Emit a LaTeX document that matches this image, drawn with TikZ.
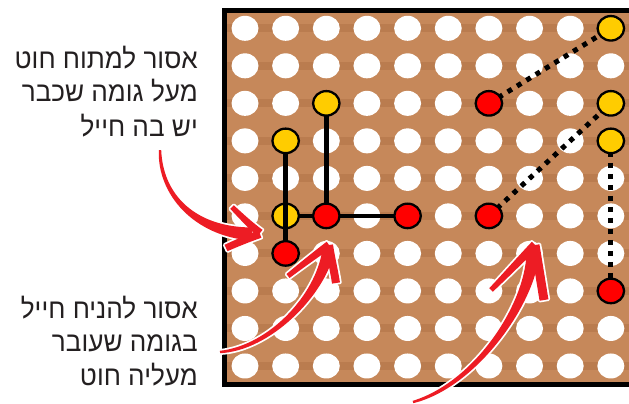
\documentclass[tikz,border=0pt]{standalone}
\usepackage{fontspec}
\newfontfamily\hebfont[Script=Hebrew,FakeStretch=0.95]{Liberation Sans}
\TeXXeTstate=1
\usetikzlibrary{calc,shapes.geometric}
\definecolor{wood}{RGB}{198,136,90}
\definecolor{wooddark}{RGB}{160,98,55}
\definecolor{pinyellow}{RGB}{255,204,0}
\definecolor{pinred}{RGB}{255,0,0}
\definecolor{arrowred}{RGB}{237,28,36}
\definecolor{textgray}{RGB}{35,31,32}
\newcommand\brush[7]{%
  \path[#7] ($(#1)!#5!90:(#2)$)
    .. controls ($(#2)+($(#1)!{(2*#5+#6)/3}!90:(#2)$)-(#1)$) and ($(#3)+($(#4)!{(#5+2*#6)/3}!-90:(#3)$)-(#4)$) .. ($(#4)!#6!-90:(#3)$)
    -- ($(#4)!#6!90:(#3)$)
    .. controls ($(#3)+($(#4)!{(#5+2*#6)/3}!90:(#3)$)-(#4)$) and ($(#2)+($(#1)!{(2*#5+#6)/3}!-90:(#2)$)-(#1)$) .. ($(#1)!#5!-90:(#2)$)
    -- cycle;}
\newcommand\arrowshapes[1]{%
  % arrow 1
  \brush{160,150}{160,195}{195,232}{252,234}{1.2pt}{6.5pt}{#1}
  \brush{232,207}{241,216}{250,225}{260,233}{2.5pt}{4pt}{#1}
  \brush{226,248}{237,243}{249,238}{260,234}{3.5pt}{4pt}{#1}
  % arrow 2
  \brush{220,352}{270,348}{320,295}{328,252}{1.2pt}{6pt}{#1}
  \brush{288,276}{302,265}{315,255}{329,245}{2.5pt}{4pt}{#1}
  \brush{336,283}{334,270}{331,258}{329,245}{4pt}{4pt}{#1}
  % arrow 3
  \brush{413,402}{475,385}{530,305}{533,253}{1.2pt}{6.5pt}{#1}
  \brush{491,290}{506,275}{520,260}{535,245}{2.5pt}{4.5pt}{#1}
  \brush{544,300}{541,282}{538,263}{535,245}{4.5pt}{4.5pt}{#1}
}
\begin{document}
\begin{tikzpicture}[x=1pt,y=-1pt,
  hole/.style={ellipse,fill=white,inner sep=0pt,minimum width=27pt,minimum height=25pt},
  pinbase/.style={ellipse,draw=black,line width=2.3pt,inner sep=0pt,minimum width=26.5pt,minimum height=24.5pt},
  ypin/.style={pinbase,fill=pinyellow},
  rpin/.style={pinbase,fill=pinred},
  wire/.style={line width=4.5pt,black},
  dotwire/.style={line width=5pt,black,dash pattern=on 5pt off 6pt},
  halo/.style={fill=white,draw=white,line width=3.5pt,line join=round},
  redfill/.style={fill=arrowred},
  hebtext/.style={anchor=base east,inner sep=0pt,text=textgray,font=\hebfont\fontsize{27.5}{34}\selectfont}]
\useasboundingbox (0,0) rectangle (629,404);
% board
\fill[wood] (224.5,10.8) rectangle (629,384);
\foreach \j in {1,...,10} {
  \fill[wooddark,opacity=0.3] (226,{28.3+37.52*(\j-1)-4}) rectangle (629,{28.3+37.52*(\j-1)+4});
}
\draw[line width=5pt,black] (629,10.8) -- (224.5,10.8) -- (224.5,384) -- (629,384);
% holes
\foreach \i in {1,...,10} {
  \foreach \j in {1,...,10} {
    \node[hole] (h-\i-\j) at ({245+40.65*(\i-1)},{28.3+37.52*(\j-1)}) {};
  }
}
% wires
\draw[wire] (h-3-3.center) -- (h-3-6.center);
\draw[wire] (h-2-6.center) -- (h-5-6.center);
\node[ypin] (p-2-6) at (h-2-6) {};
\draw[wire] (h-2-4.center) -- (h-2-7.center);
\draw[dotwire] (h-7-3.center) -- (h-10-1.center);
\draw[dotwire] (h-7-6.center) -- (h-10-3.center);
\draw[dotwire] (h-10-4.center) -- (h-10-8.center);
% pins
\node[ypin] (p-3-3) at (h-3-3) {};
\node[ypin] (p-2-4) at (h-2-4) {};
\node[ypin] (p-10-1) at (h-10-1) {};
\node[ypin] (p-10-3) at (h-10-3) {};
\node[ypin] (p-10-4) at (h-10-4) {};
\node[rpin] (p-3-6) at (h-3-6) {};
\node[rpin] (p-5-6) at (h-5-6) {};
\node[rpin] (p-2-7) at (h-2-7) {};
\node[rpin] (p-7-3) at (h-7-3) {};
\node[rpin] (p-7-6) at (h-7-6) {};
\node[rpin] (p-10-8) at (h-10-8) {};
% arrows
\arrowshapes{halo}
\arrowshapes{redfill}
% texts
\node[hebtext] (t1a) at (198,68) {\beginR אסור למתוח חוט\endR};
\node[hebtext] (t1b) at (198,101) {\beginR מעל גומה שכבר\endR};
\node[hebtext] (t1c) at (198,136) {\beginR יש בה חייל\endR};
\node[hebtext] (t2a) at (198,318) {\beginR אסור להניח חייל\endR};
\node[hebtext] (t2b) at (198,351) {\beginR בגומה שעובר\endR};
\node[hebtext] (t2c) at (198,385) {\beginR מעליה חוט\endR};
\end{tikzpicture}
\end{document}
